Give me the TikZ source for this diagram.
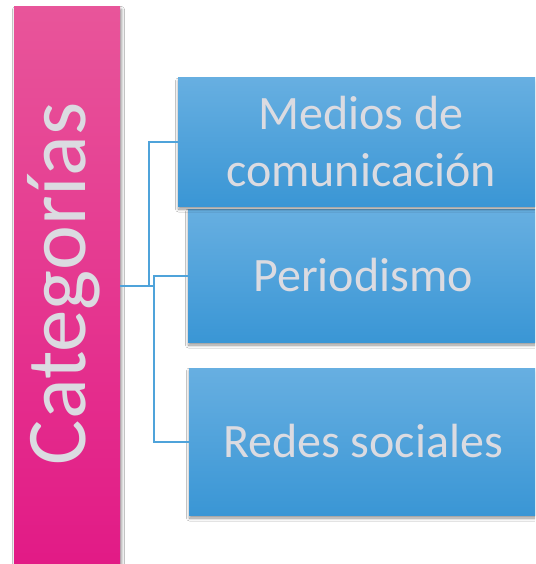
\documentclass[tikz,border=0pt]{standalone}
\usepackage{fontspec}
\setmainfont{Carlito}
\usetikzlibrary{shadows.blur}
\definecolor{pinktop}{HTML}{E8559A}
\definecolor{pinkbot}{HTML}{E21A86}
\definecolor{bluetop}{HTML}{67AFE1}
\definecolor{bluebot}{HTML}{3A96D5}
\definecolor{txt}{HTML}{DBDBE1}
\definecolor{conn}{HTML}{4FA3DA}
\tikzset{
  catbox/.style={rectangle, inner sep=0pt, top color=pinktop, bottom color=pinkbot, draw=none,
    blur shadow={shadow xshift=1.5pt, shadow yshift=-2.5pt, shadow blur steps=6, shadow blur radius=3pt, shadow opacity=45}},
  itembox/.style={rectangle, inner sep=0pt, top color=bluetop, bottom color=bluebot, draw=none,
    blur shadow={shadow xshift=0.5pt, shadow yshift=-3pt, shadow blur steps=6, shadow blur radius=3pt, shadow opacity=45}},
  itemtext/.style={text=txt, align=center, inner sep=0pt, font=\fontsize{48}{57}\selectfont},
  conline/.style={draw=conn, line width=2pt}
}
\begin{document}
\begin{tikzpicture}[x=1pt,y=-1pt]
\useasboundingbox (0,0) rectangle (535,564);
\clip (0,0) rectangle (535,564);
\fill[white] (0,0) rectangle (535,564);
\node[catbox, minimum width=106pt, minimum height=560pt] (cat) at (67,287) {};
\node[text=txt, rotate=90, font=\fontsize{85}{100}\selectfont, inner sep=0pt] (cattext) at (64,284) {Categorías};
\coordinate (j1) at (149,286);
\coordinate (j2) at (154,286);
\node[itembox, minimum width=372pt, minimum height=133pt] (p) at (374,275.5) {};
\node[itemtext] (pt) at (363,275.5) {Periodismo};
\node[itembox, minimum width=371pt, minimum height=147pt] (r) at (374.5,441.5) {};
\node[itemtext] (rt) at (363,441.5) {Redes sociales};
\draw[conline] (cat.east |- j1) -- (j2);
\draw[conline] (j1) |- (166,142);
\draw[conline] (p.west) -| (j2) |- (r.west);
\node[itembox, minimum width=382pt, minimum height=128pt] (m) at (369,142) {};
\node[itemtext] (mt) at (361,142) {Medios de\\comunicación};
\draw[conline] (166,142) -- (m.west);
\end{tikzpicture}
\end{document}
